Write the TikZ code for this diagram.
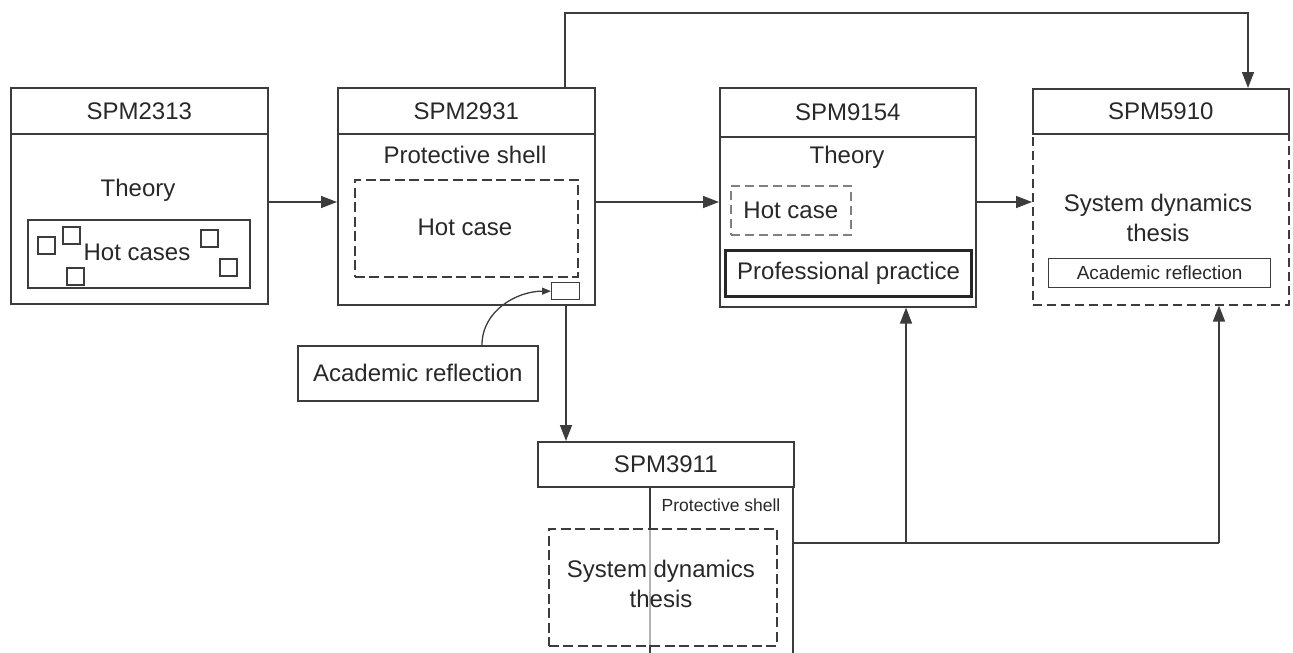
\documentclass[tikz,border=0pt]{standalone}
\usepackage{fontspec}
\setmainfont{Liberation Sans}
\usetikzlibrary{arrows.meta}
\definecolor{ln}{RGB}{60,60,60}
\definecolor{tx}{RGB}{40,40,40}
\tikzset{
  box/.style={draw=ln, line width=1.6pt, inner sep=0pt, anchor=north west},
  lbl/.style={text=tx, inner sep=0pt, font=\fontsize{24}{28}\selectfont},
  small/.style={text=tx, inner sep=0pt, font=\fontsize{19}{22}\selectfont},
  tiny/.style={text=tx, inner sep=0pt, font=\fontsize{17.5}{20}\selectfont},
  arr/.style={draw=ln, line width=1.5pt, -{Triangle[length=16pt,width=12pt]}},
  conn/.style={draw=ln, line width=1.5pt},
  dashA/.style={dash pattern=on 10pt off 4.5pt},
  dashB/.style={dash pattern=on 9pt off 5pt},
}
\begin{document}
\begin{tikzpicture}[x=1pt,y=-1pt]
\useasboundingbox (0,0) rectangle (1293,653);
% ---------- SPM2313 ----------
\node[box, minimum width=257pt, minimum height=46pt] (h2313) at (10,87) {};
\node[lbl] at (h2313.center) {SPM2313};
\node[box, minimum width=257pt, minimum height=170pt] (b2313) at (10,133) {};
\node[lbl] (t2313) at (138,190) {Theory};
\node[box, minimum width=222pt, minimum height=68pt] (hc2313) at (27,219) {};
\node[lbl] (hcs) at (137,252) {Hot cases};
\foreach \x/\y in {38/237, 63/227, 67/268, 201/230, 220/259}
  \draw[ln, line width=1.3pt] (\x,\y) rectangle ++(17,17);
% ---------- SPM2931 ----------
\node[box, minimum width=257pt, minimum height=46pt] (h2931) at (337,87) {};
\node[lbl] at (h2931.center) {SPM2931};
\node[box, minimum width=257pt, minimum height=171pt] (b2931) at (337,133) {};
\node[lbl] (ps2931) at (465,155) {Protective shell};
\node[box, dashA, minimum width=223pt, minimum height=97pt] (hc2931) at (354,179) {};
\node[lbl] at (465,227) {Hot case};
\node[box, line width=1.3pt, minimum width=28pt, minimum height=17pt] (hb) at (551,282) {};
\node[box, minimum width=240pt, minimum height=55pt] (acad) at (297,345) {};
\node[lbl] at (acad.center) {Academic reflection};
% ---------- SPM9154 ----------
\node[box, minimum width=256pt, minimum height=49pt] (h9154) at (719,87) {};
\node[lbl] at (h9154.center) {SPM9154};
\node[box, minimum width=256pt, minimum height=170pt] (b9154) at (719,136) {};
\node[lbl] at (847,157) {Theory};
\node[box, draw=gray, dashB, minimum width=120pt, minimum height=49pt] (hc9154) at (730,185) {};
\node[lbl] at (hc9154.center) {Hot case};
\node[box, draw=black!85, line width=3.2pt, minimum width=246pt, minimum height=46pt] (pp) at (724,249) {};
\node[lbl] at (pp.center) {Professional practice};
% ---------- SPM5910 ----------
\node[box, minimum width=256pt, minimum height=45pt] (h5910) at (1032,88) {};
\node[lbl] at (h5910.center) {SPM5910};
\node[box, dashB, minimum width=256pt, minimum height=171pt] (b5910) at (1032,133) {};
\node[lbl, align=center] at (1158,218) {System dynamics\\[2pt]thesis};
\node[box, line width=1.3pt, minimum width=222pt, minimum height=29pt] (ar5910) at (1048,258) {};
\node[small] at (ar5910.center) {Academic reflection};
% ---------- SPM3911 ----------
\node[box, minimum width=256pt, minimum height=45pt] (h3911) at (537,441) {};
\node[lbl] at (h3911.center) {SPM3911};
\coordinate (s1) at (650,486);
\coordinate (s2) at (793,486);
\draw[conn] (s1) -- (650,528);
\draw[gray!60, line width=1.5pt] (650,528) -- (650,645);
\draw[conn] (650,645) -- (650,653);
\draw[conn] (s2) -- (793,653);
\node[tiny] at (721,505) {Protective shell};
\node[box, dashA, minimum width=228pt, minimum height=117pt] (th3911) at (548,528) {};
\node[lbl, align=center] at (661,584) {System dynamics\\[2pt]thesis};
% ---------- connectors ----------
\coordinate (y202) at (0,202);
\coordinate (k1) at (565,13);
\coordinate (k2) at (1248,13);
\coordinate (x566) at (566,0);
\coordinate (j1) at (793,543);
\coordinate (j2) at (906,543);
\coordinate (j3) at (1219,543);
\coordinate (x482) at (482,0);
\draw[arr] (b2313.east |- y202) -- (b2931.west |- y202);
\draw[arr] (b2931.east |- y202) -- (b9154.west |- y202);
\draw[arr] (b9154.east |- y202) -- (b5910.west |- y202);
\draw[arr] (h2931.north -| k1) -- (k1) -- (k2) -- (h5910.north -| k2);
\draw[arr] (b2931.south -| x566) -- (h3911.north -| x566);
\draw[conn] (j1) -- (j3);
\draw[arr] (j2) -- (b9154.south -| j2);
\draw[arr] (j3) -- (b5910.south -| j3);
\draw[draw=ln, line width=1.3pt, -{Triangle[length=9pt,width=7pt]}] (acad.north -| x482) to[out=90, in=180] (hb.west);
\end{tikzpicture}
\end{document}
